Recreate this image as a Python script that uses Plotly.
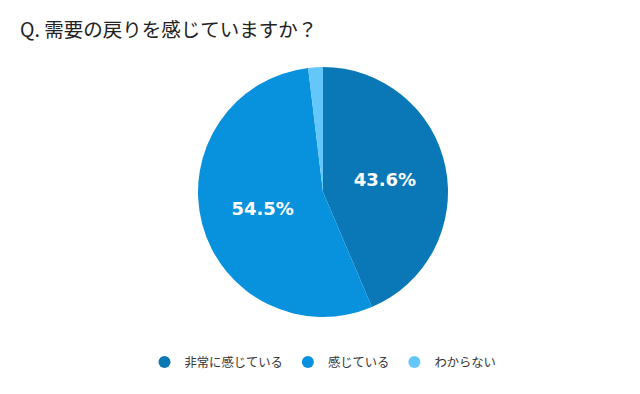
import plotly.graph_objects as go

categories = ["非常に感じている", "感じている", "わからない"]
values = [43.6, 54.5, 1.9]
labels_text = ["43.6%", "54.5%", ""]
colors = ["#0a78b6", "#0891dd", "#64c7f9"]

FONT = "Noto Sans CJK JP"

fig = go.Figure()
fig.add_trace(go.Pie(
    labels=categories, values=values, sort=False, direction="clockwise",
    rotation=0, marker=dict(colors=colors, line=dict(width=0)),
    text=labels_text, textinfo="text", textposition="inside",
    insidetextorientation="horizontal",
    textfont=dict(family="DejaVu Sans", size=18, color="white", weight="bold"),
    showlegend=False, hoverinfo="label+percent",
    domain=dict(x=[0, 1], y=[0, 1]),
))
for c, col in zip(categories, colors):
    fig.add_trace(go.Scatter(x=[None], y=[None], mode="markers", name=c,
                             marker=dict(symbol="circle", size=12, color=col),
                             showlegend=True))

fig.update_layout(
    width=640, height=394,
    margin=dict(l=0, r=10, t=59, b=85),
    paper_bgcolor="white", plot_bgcolor="white",
    font=dict(family=FONT, color="#333333"),
    title=dict(text="Q. 需要の戻りを感じていますか？", x=12 / 640, xref="container", xanchor="left",
               y=1 - 22 / 394, yref="container", yanchor="middle",
               font=dict(family=FONT, size=19.5, color="#222222")),
    xaxis=dict(visible=False), yaxis=dict(visible=False),
    legend=dict(orientation="h", x=(323 - 8) / 640, xanchor="center", xref="container",
                y=1 - 354 / 394, yref="container", yanchor="middle",
                font=dict(family=FONT, size=12.3, color="#333333"),
                itemsizing="constant"),
)
fig.write_html("out.html")
